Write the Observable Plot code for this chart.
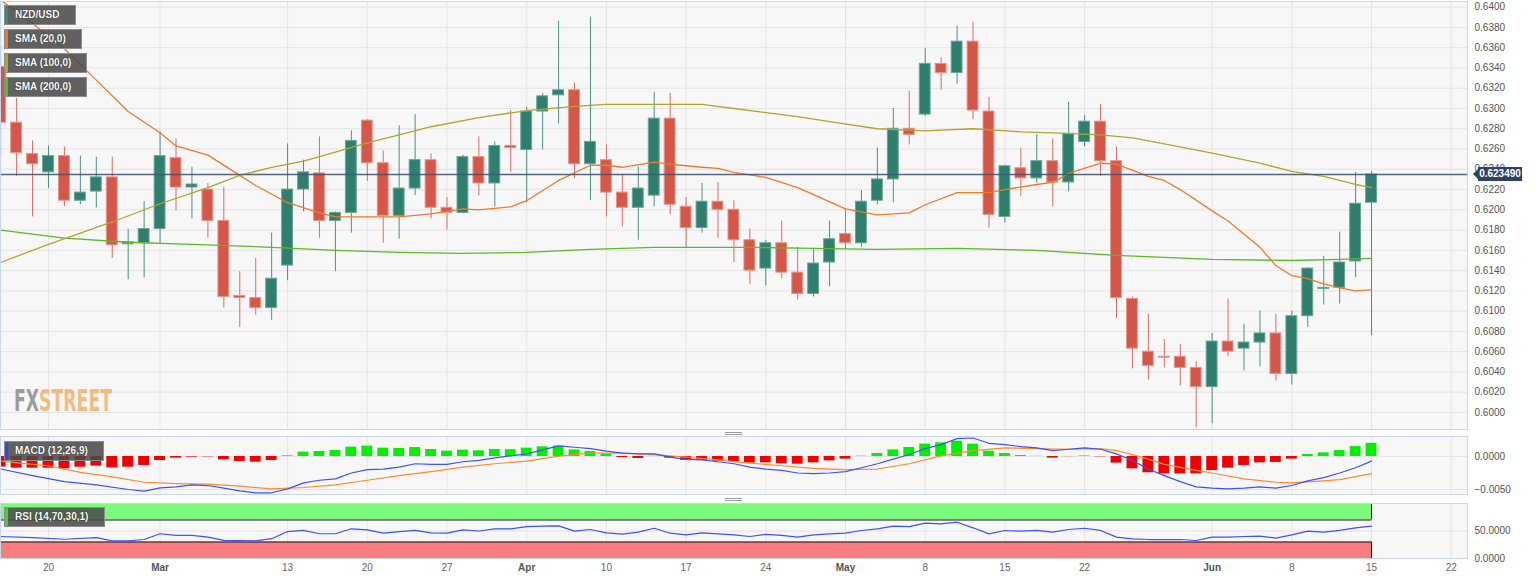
<!DOCTYPE html>
<html><head><meta charset="utf-8">
<script src="https://cdn.jsdelivr.net/npm/d3@7"></script>
<script src="https://cdn.jsdelivr.net/npm/@observablehq/plot@0.6"></script>
<style>
body{margin:0;background:#fff;font-family:"Liberation Sans",Arial,sans-serif;}
#wrap{position:relative;width:1536px;height:582px;overflow:hidden;background:#fff;}
.panel{position:absolute;left:0;}
.tag{position:absolute;left:4px;height:20px;background:rgba(72,72,72,0.86);border:1px solid #8c8c8c;box-sizing:border-box;color:#fff;font-size:10px;font-weight:bold;line-height:18px;padding-left:10px;text-shadow:0 0 1px #000;white-space:nowrap;}
.tag i{position:absolute;left:0;top:0;bottom:0;width:3px;}
.handle{position:absolute;left:725px;width:17px;height:1px;border-top:1px solid #9a9a9a;border-bottom:1px solid #9a9a9a;}
#price{position:absolute;left:1478px;height:14px;width:44px;background:#2c4266;color:#fff;font-size:10px;font-weight:bold;line-height:14px;text-align:center;}
#price:before{content:"";position:absolute;left:-5px;top:2px;border-top:5px solid transparent;border-bottom:5px solid transparent;border-right:5px solid #2c4266;}
</style></head><body><div id="wrap"></div>
<script>
const YEAR = 2023;
// ---- candle data (MM-DD, 2023) ----
const dates = ["02-15","02-16","02-17","02-20","02-21","02-22","02-23","02-24","02-27","02-28",
"03-01","03-02","03-03","03-06","03-07","03-08","03-09","03-10","03-13","03-14","03-15","03-16","03-17",
"03-20","03-21","03-22","03-23","03-24","03-27","03-28","03-29","03-30","03-31",
"04-03","04-04","04-05","04-06","04-07","04-10","04-11","04-12","04-13","04-14","04-17","04-18","04-19","04-20","04-21",
"04-24","04-25","04-26","04-27","04-28","05-01","05-02","05-03","05-04","05-05","05-08","05-09","05-10","05-11","05-12",
"05-15","05-16","05-17","05-18","05-19","05-22","05-23","05-24","05-25","05-26","05-29","05-30","05-31",
"06-01","06-02","06-05","06-06","06-07","06-08","06-09","06-12","06-13","06-14","06-15"];
const open = [0.6341,0.6286,0.6255,0.6237,0.6253,0.6209,0.6218,0.6232,0.6166,0.6167,
0.6181,0.6251,0.6222,0.6220,0.6189,0.6115,0.6113,0.6103,0.6145,0.6220,0.6236,0.6189,0.6197,
0.6288,0.6246,0.6194,0.6221,0.6249,0.6202,0.6197,0.6252,0.6226,0.6263,
0.6259,0.6297,0.6313,0.6318,0.6245,0.6249,0.6217,0.6202,0.6214,0.6290,0.6203,0.6182,0.6208,0.6200,0.6170,
0.6142,0.6167,0.6138,0.6117,0.6148,0.6176,0.6167,0.6209,0.6230,0.6280,0.6294,0.6344,0.6335,0.6366,0.6297,
0.6193,0.6241,0.6231,0.6248,0.6227,0.6267,0.6287,0.6248,0.6112,0.6060,0.6055,0.6055,0.6044,
0.6025,0.6070,0.6063,0.6069,0.6078,0.6038,0.6095,0.6122,0.6123,0.6149,0.6207];
const high = [0.6362,0.6310,0.6268,0.6263,0.6262,0.6253,0.6252,0.6252,0.6181,0.6208,
0.6277,0.6270,0.6242,0.6226,0.6222,0.6139,0.6152,0.6177,0.6265,0.6249,0.6272,0.6198,0.6278,
0.6289,0.6258,0.6283,0.6294,0.6255,0.6212,0.6254,0.6272,0.6267,0.6298,
0.6301,0.6315,0.6386,0.6325,0.6390,0.6264,0.6235,0.6242,0.6316,0.6315,0.6212,0.6226,0.6227,0.6209,0.6181,
0.6170,0.6189,0.6163,0.6162,0.6189,0.6201,0.6219,0.6261,0.6300,0.6317,0.6359,0.6350,0.6381,0.6385,0.6311,
0.6244,0.6261,0.6274,0.6270,0.6306,0.6293,0.6304,0.6262,0.6114,0.6097,0.6072,0.6067,0.6050,
0.6078,0.6112,0.6087,0.6100,0.6097,0.6100,0.6143,0.6154,0.6178,0.6237,0.6238];
const low = [0.6252,0.6233,0.6193,0.6221,0.6203,0.6205,0.6202,0.6152,0.6131,0.6133,
0.6167,0.6199,0.6191,0.6172,0.6103,0.6084,0.6096,0.6091,0.6130,0.6198,0.6172,0.6139,0.6177,
0.6228,0.6167,0.6171,0.6214,0.6191,0.6180,0.6196,0.6214,0.6203,0.6237,
0.6207,0.6259,0.6285,0.6231,0.6209,0.6193,0.6183,0.6170,0.6203,0.6195,0.6162,0.6177,0.6172,0.6148,0.6126,
0.6125,0.6132,0.6111,0.6114,0.6124,0.6160,0.6163,0.6205,0.6207,0.6264,0.6292,0.6318,0.6324,0.6289,0.6182,
0.6187,0.6213,0.6226,0.6203,0.6218,0.6262,0.6233,0.6093,0.6043,0.6032,0.6044,0.6026,0.5985,
0.5989,0.6055,0.6041,0.6045,0.6031,0.6027,0.6084,0.6106,0.6107,0.6133,0.6076];
const close = [0.6286,0.6256,0.6245,0.6253,0.6209,0.6217,0.6232,0.6165,0.6168,0.6181,
0.6253,0.6222,0.6225,0.6189,0.6114,0.6113,0.6103,0.6132,0.6220,0.6237,0.6189,0.6197,0.6268,
0.6246,0.6194,0.6221,0.6249,0.6202,0.6197,0.6252,0.6226,0.6263,0.6261,
0.6297,0.6312,0.6318,0.6245,0.6267,0.6217,0.6202,0.6221,0.6290,0.6205,0.6182,0.6208,0.6200,0.6170,0.6140,
0.6167,0.6138,0.6117,0.6147,0.6171,0.6167,0.6208,0.6230,0.6280,0.6274,0.6344,0.6335,0.6366,0.6298,0.6195,
0.6243,0.6231,0.6248,0.6227,0.6275,0.6287,0.6248,0.6113,0.6063,0.6046,0.6054,0.6044,0.6025,
0.6070,0.6060,0.6069,0.6078,0.6038,0.6095,0.6142,0.6123,0.6148,0.6206,0.62349];
const lastPrice = 0.62349;

// ---- moving averages ----
const sma20 = [["02-15",0.6407],["02-17",0.6384],["02-21",0.6359],["02-23",0.6328],["02-27",0.6297],["03-01",0.6276],["03-02",0.6263],["03-06",0.6254],["03-08",0.6234],["03-09",0.6224],["03-13",0.6207],["03-15",0.6197],["03-16",0.6193],["03-22",0.6193],["03-24",0.6196],["03-28",0.6201],["03-29",0.6200],["03-31",0.6203],["04-03",0.6209],["04-05",0.6229],["04-07",0.6244],["04-10",0.6244],["04-11",0.6242],["04-13",0.6247],["04-14",0.6245],["04-18",0.6242],["04-19",0.6241],["04-20",0.6237],["04-24",0.6232],["04-26",0.6222],["04-27",0.6215],["05-01",0.6201],["05-03",0.6195],["05-05",0.6197],["05-08",0.6205],["05-10",0.6217],["05-12",0.6217],["05-15",0.6220],["05-17",0.6225],["05-18",0.6227],["05-19",0.6236],["05-23",0.6246],["05-24",0.6245],["05-26",0.6233],["05-29",0.6229],["05-30",0.6220],["06-01",0.6199],["06-02",0.6189],["06-06",0.6163],["06-07",0.6145],["06-08",0.6135],["06-09",0.6132],["06-12",0.6127],["06-13",0.6123],["06-14",0.6120],["06-15",0.6121]];
const sma100 = [["02-15",0.6148],["02-20",0.6166],["02-22",0.6177],["02-24",0.6188],["03-01",0.6206],["03-06",0.6222],["03-08",0.6234],["03-10",0.6242],["03-14",0.6248],["03-16",0.6257],["03-20",0.6266],["03-22",0.6274],["03-24",0.6282],["03-29",0.6291],["04-03",0.6298],["04-06",0.6302],["04-10",0.6304],["04-18",0.6304],["04-20",0.6300],["04-24",0.6296],["04-26",0.6292],["04-28",0.6287],["05-03",0.6280],["05-08",0.6278],["05-11",0.6280],["05-16",0.6277],["05-18",0.6276],["05-23",0.6274],["05-25",0.6271],["05-29",0.6265],["06-01",0.6256],["06-06",0.6246],["06-08",0.6238],["06-12",0.6233],["06-14",0.6225],["06-15",0.6222]];
const sma200 = [["02-15",0.6180],["02-21",0.6172],["02-27",0.6168],["03-03",0.6166],["03-10",0.6163],["03-16",0.6160],["03-22",0.6158],["03-28",0.6157],["04-03",0.6158],["04-07",0.6161],["04-13",0.6163],["04-21",0.6163],["04-27",0.6162],["05-03",0.6161],["05-10",0.6162],["05-17",0.6160],["05-24",0.6155],["06-01",0.6151],["06-08",0.6150],["06-13",0.6151],["06-15",0.6152]];

// ---- MACD (12,26,9) ----
const macdHist = [-0.0016,-0.00177,-0.00177,-0.00177,-0.00187,-0.00162,-0.00146,-0.00172,-0.00162,-0.00136,
-0.00061,-0.00025,-0.0001,-0.00005,-0.0005,-0.00076,-0.00086,-0.00061,0.0001,0.00066,0.00076,0.00091,0.00141,
0.00157,0.00126,0.00121,0.00136,0.00106,0.00081,0.00096,0.00086,0.00106,0.00103,
0.00126,0.00146,0.00157,0.001,0.00076,0.00035,-0.00015,-0.0003,0.00005,-0.00025,-0.0006,-0.0006,-0.0007,-0.0008,-0.001,
-0.00096,-0.0011,-0.00116,-0.00096,-0.00066,-0.0004,0.00005,0.00045,0.001,0.00136,0.00187,0.00207,0.00232,0.00187,0.00081,
0.00045,0.00015,0.00003,-0.00025,-0.00002,0.00008,-0.00005,-0.001,-0.00187,-0.00247,-0.00263,-0.00263,-0.00263,
-0.00212,-0.00177,-0.00136,-0.00096,-0.0009,-0.0004,0.0003,0.00055,0.0009,0.0015,0.002];
const macdLine = [["02-15",-0.0019],["02-17",-0.0029],["02-21",-0.0038],["02-23",-0.0043],["02-27",-0.0050],["02-28",-0.00525],["03-01",-0.00475],["03-02",-0.0046],["03-03",-0.0043],["03-06",-0.0044],["03-07",-0.0048],["03-08",-0.0052],["03-09",-0.0055],["03-10",-0.0055],["03-13",-0.0049],["03-14",-0.0040],["03-15",-0.0036],["03-16",-0.0034],["03-17",-0.0025],["03-20",-0.0020],["03-21",-0.0019],["03-22",-0.0016],["03-23",-0.0011],["03-24",-0.0012],["03-27",-0.0012],["03-28",-0.0008],["03-29",-0.0006],["03-30",-0.0002],["03-31",0.0001],["04-03",0.0004],["04-04",0.0010],["04-05",0.0016],["04-06",0.0014],["04-07",0.0012],["04-10",0.0008],["04-11",0.0005],["04-12",0.0004],["04-13",0.0004],["04-14",-0.0001],["04-17",-0.00045],["04-18",-0.0005],["04-19",-0.0008],["04-20",-0.0011],["04-21",-0.0016],["04-24",-0.0019],["04-25",-0.0021],["04-26",-0.0025],["04-27",-0.0026],["04-28",-0.0025],["05-01",-0.0023],["05-02",-0.0017],["05-03",-0.0011],["05-04",-0.0004],["05-05",0.0003],["05-08",0.0012],["05-09",0.0018],["05-10",0.0027],["05-11",0.0028],["05-12",0.0020],["05-15",0.0018],["05-16",0.0015],["05-17",0.0013],["05-18",0.0009],["05-19",0.0011],["05-22",0.0013],["05-23",0.0011],["05-24",0.0004],["05-25",-0.0006],["05-26",-0.0019],["05-29",-0.0029],["05-30",-0.0038],["05-31",-0.0046],["06-01",-0.0048],["06-02",-0.0049],["06-05",-0.0048],["06-06",-0.0046],["06-07",-0.0048],["06-08",-0.0044],["06-09",-0.0037],["06-12",-0.0032],["06-13",-0.0025],["06-14",-0.0017],["06-15",-0.0007]];
const signalLine = [["02-15",-0.0007],["02-17",-0.0012],["02-20",-0.0014],["02-22",-0.0024],["02-24",-0.0031],["02-28",-0.0039],["03-02",-0.0041],["03-06",-0.0042],["03-08",-0.0045],["03-10",-0.0049],["03-14",-0.0047],["03-16",-0.0043],["03-20",-0.0036],["03-22",-0.0029],["03-24",-0.0023],["03-28",-0.0016],["03-30",-0.0011],["04-03",-0.0007],["04-05",0.00005],["04-07",0.0005],["04-11",0.0005],["04-13",0.0003],["04-17",-0.0001],["04-19",-0.0005],["04-21",-0.0010],["04-25",-0.0014],["04-27",-0.0018],["05-01",-0.0020],["05-03",-0.0019],["05-05",-0.0011],["05-09",0.0001],["05-11",0.0009],["05-15",0.0013],["05-17",0.0012],["05-19",0.0011],["05-23",0.0012],["05-24",0.0009],["05-25",0.0003],["05-26",-0.0004],["05-29",-0.0012],["05-31",-0.0021],["06-01",-0.0025],["06-05",-0.0034],["06-07",-0.0039],["06-08",-0.0040],["06-12",-0.0037],["06-13",-0.0035],["06-15",-0.0026]];

// ---- RSI (14,70,30,1) ----
const rsi = [["02-15",40],["02-17",38],["02-21",35],["02-23",38],["02-24",32],["02-27",32],["02-28",34.5],["03-01",45],["03-02",42],["03-03",42],["03-06",39],["03-07",33],["03-08",32.5],["03-09",32],["03-10",36],["03-13",49],["03-14",51],["03-15",45],["03-16",45],["03-17",54],["03-20",52],["03-21",46],["03-22",49],["03-23",51],["03-24",46.5],["03-27",46],["03-28",52],["03-29",50],["03-30",54],["03-31",54],["04-03",58],["04-04",59],["04-05",59.4],["04-06",49.7],["04-07",52.7],["04-10",46.7],["04-11",44.2],["04-12",47.9],["04-13",55],["04-14",46],["04-17",43],["04-18",46.7],["04-19",44.8],["04-20",43],["04-21",40],["04-24",44],["04-25",42],["04-26",38.8],["04-27",43],["04-28",44.8],["05-01",46],["05-02",50.9],["05-03",54],["05-04",58.8],["05-05",58],["05-08",64.2],["05-09",63],["05-10",66],["05-11",55.8],["05-12",44.8],["05-15",50.9],["05-16",49.7],["05-17",51],["05-18",48],["05-19",52.7],["05-22",55],["05-23",51],["05-24",38.8],["05-25",35.8],["05-26",34.5],["05-29",34.5],["05-30",34.5],["05-31",32.7],["06-01",38.8],["06-02",38.8],["06-05",40],["06-06",40.6],["06-07",37],["06-08",43],["06-09",49.7],["06-12",48],["06-13",51],["06-14",55.8],["06-15",58.8]];

// ---- axes ----
const priceTicks = [0.600,0.602,0.604,0.606,0.608,0.610,0.612,0.614,0.616,0.618,0.620,0.622,0.624,0.626,0.628,0.630,0.632,0.634,0.636,0.638,0.640];
const macdTicks = [0, -0.005];
const rsiTicks = [0, 50];
const tickDates = ["02-20","03-01","03-13","03-20","03-27","04-03","04-10","04-17","04-24","05-01","05-08","05-15","05-22","06-01","06-08","06-15","06-22"];
const tickLabels = ["20","Mar","13","20","27","Apr","10","17","24","May","8","15","22","Jun","8","15","22"];
const monthLabels = ["Mar","Apr","May","Jun"];

// trading-day index (weekdays only), Monday 20 Feb = 0
function tIndex(md){
  const [m,d] = md.split("-").map(Number);
  const days = Math.round((Date.UTC(YEAR,m-1,d) - Date.UTC(YEAR,1,20)) / 864e5);
  const w = Math.floor(days/7);
  return w*5 + Math.min(days - w*7, 5);
}

const W = 1536, MR = 69;
const X = {type:"linear", domain:[-3.01, 89.02], axis:null};
const FONT = "Liberation Sans, Arial, sans-serif";
const style = {background:"transparent", fontFamily:FONT, fontSize:"10px", color:"#555", overflow:"visible"};
const UP = "#2f7f6e", DN = "#d4574a";
const GRID = "#e4e4e4", BORDER = "#ccd6eb", BG = "#f7f7f7";

const candles = dates.map((d,k)=>({i:tIndex(d), o:open[k], h:high[k], l:low[k], c:close[k]}));
const isUp = d => d.c >= d.o;
const pts = arr => arr.map(([d,v])=>({i:tIndex(d), v}));
const tickIdx = tickDates.map(tIndex);
const lastIdx = tIndex(dates[dates.length-1]);
const firstIdx = tIndex(dates[0]);

const wrap = document.getElementById("wrap");
function place(svg, top){ svg.classList.add("panel"); svg.style.top = top+"px"; svg.style.position="absolute"; wrap.appendChild(svg); }

// ---- main panel ----
const main = Plot.plot({
  width: W, height: 429, marginTop: 1, marginBottom: 0, marginLeft: 0, marginRight: MR,
  x: X, y: {domain:[0.59832, 0.64056], label:null}, color:{type:"identity"}, style,
  marks: [
    Plot.frame({fill:BG, stroke:null}),
    Plot.ruleY(priceTicks, {stroke:GRID}),
    Plot.ruleX(tickIdx, {stroke:GRID}),
    Plot.ruleX(candles, {x:"i", y1:"l", y2:"h", stroke:d=>isUp(d)?UP:DN, strokeOpacity:0.85, clip:true}),
    Plot.rect(candles, {x1:d=>d.i-0.34, x2:d=>d.i+0.34, y1:"o", y2:"c",
      fill:d=>isUp(d)?UP:DN, stroke:d=>isUp(d)?"#6aa597":"#e6948a", strokeWidth:1, clip:true}),
    Plot.line(pts(sma200), {x:"i", y:"v", stroke:"#5cb82c", strokeWidth:1.3, clip:true}),
    Plot.line(pts(sma100), {x:"i", y:"v", stroke:"#b3a42c", strokeWidth:1.3, clip:true}),
    Plot.line(pts(sma20), {x:"i", y:"v", stroke:"#f07a2a", strokeWidth:1.3, clip:true}),
    Plot.ruleY([lastPrice], {stroke:"#41557a", strokeWidth:1.5, strokeOpacity:0.9}),
    Plot.axisY(priceTicks, {anchor:"right", label:null, tickSize:0, tickPadding:7, tickFormat:d3.format(".4f")}),
    Plot.frame({stroke:BORDER})
  ]
});
place(main, 0);

// ---- MACD panel ----
const hist = dates.map((d,k)=>({i:tIndex(d), v:macdHist[k]}));
const macd = Plot.plot({
  width: W, height: 58, margin: 0, marginRight: MR,
  x: X, y: {domain:[-0.00576, 0.00303], label:null}, color:{type:"identity"}, style,
  marks: [
    Plot.frame({fill:BG, stroke:null}),
    Plot.ruleY(macdTicks, {stroke:GRID}),
    Plot.ruleX(tickIdx, {stroke:GRID}),
    Plot.rect(hist, {x1:d=>d.i-0.34, x2:d=>d.i+0.34, y1:0, y2:"v",
      fill:d=>d.v>=0?"#00f000":"#f00000", clip:true}),
    Plot.line(pts(signalLine), {x:"i", y:"v", stroke:"#ff8a30", strokeWidth:1.2, clip:true}),
    Plot.line(pts(macdLine), {x:"i", y:"v", stroke:"#3a55f5", strokeWidth:1.2, clip:true}),
    Plot.axisY(macdTicks, {anchor:"right", label:null, tickSize:0, tickPadding:7, tickFormat:d3.format(".4f")}),
    Plot.frame({stroke:BORDER})
  ]
});
place(macd, 436);

// ---- RSI panel + date axis ----
const labelOf = new Map(tickIdx.map((t,k)=>[t, tickLabels[k]]));
const monthIdx = tickIdx.filter(t=>monthLabels.includes(labelOf.get(t)));
const dayIdx = tickIdx.filter(t=>!monthLabels.includes(labelOf.get(t)));
const rsiPlot = Plot.plot({
  width: W, height: 79, marginTop: 0, marginBottom: 24, marginLeft: 0, marginRight: MR,
  x: X, y: {domain:[0, 100], label:null}, color:{type:"identity"}, style,
  marks: [
    Plot.frame({fill:BG, stroke:null}),
    Plot.ruleY([50], {stroke:GRID}),
    Plot.ruleX(tickIdx, {stroke:GRID}),
    Plot.rect([0], {x1:firstIdx-1, x2:lastIdx, y1:70, y2:100, fill:"#7dfa7d", clip:true}),
    Plot.rect([0], {x1:firstIdx-1, x2:lastIdx, y1:0, y2:30, fill:"#fa7d7d", clip:true}),
    Plot.ruleY([70, 30], {x1:firstIdx-1, x2:lastIdx, stroke:"#1a1a1a", clip:true}),
    Plot.ruleY([0], {x1:firstIdx-1, x2:lastIdx, stroke:"#7a2a2a", clip:true}),
    Plot.ruleX([lastIdx], {y1:70, y2:100, stroke:"#1a1a1a"}),
    Plot.ruleX([lastIdx], {y1:0, y2:30, stroke:"#1a1a1a"}),
    Plot.line(pts(rsi), {x:"i", y:"v", stroke:"#3a55f5", strokeWidth:1.2, clip:true}),
    Plot.axisY(rsiTicks, {anchor:"right", label:null, tickSize:0, tickPadding:7, tickFormat:d3.format(".4f")}),
    Plot.frame({stroke:BORDER}),
    Plot.text(dayIdx, {x:d=>d, frameAnchor:"bottom", dy:12, text:d=>labelOf.get(d), fill:"#666", fontSize:10}),
    Plot.text(monthIdx, {x:d=>d, frameAnchor:"bottom", dy:12, text:d=>labelOf.get(d), fill:"#555", fontSize:10, fontWeight:"bold"})
  ]
});
place(rsiPlot, 503);

// ---- overlays ----
function tag(text, top, color, width){
  const el = document.createElement("div");
  el.className = "tag"; el.style.top = top+"px"; el.style.width = width+"px";
  el.innerHTML = `<i style="background:${color}"></i>${text}`;
  wrap.appendChild(el);
}
tag("NZD/USD", 5, "#2f8f7c", 72);
tag("SMA (20,0)", 29, "#f07a2a", 78);
tag("SMA (100,0)", 53, "#b3a42c", 83);
tag("SMA (200,0)", 77, "#5cb82c", 83);
tag("MACD (12,26,9)", 441, "#2a44ff", 100);
tag("RSI (14,70,30,1)", 507, "#40d040", 101);

[431.5, 497.5].forEach(t=>{ const h=document.createElement("div"); h.className="handle"; h.style.top=t+"px"; wrap.appendChild(h); });

const py = main.scale("y").apply(lastPrice);
const pl = document.createElement("div");
pl.id = "price"; pl.style.top = (py-7)+"px"; pl.textContent = d3.format(".6f")(lastPrice);
wrap.appendChild(pl);

// watermark: one text, horizontally condensed with a transform
const wm = document.createElementNS("http://www.w3.org/2000/svg","svg");
wm.setAttribute("width","130"); wm.setAttribute("height","40");
wm.style.position="absolute"; wm.style.left="0px"; wm.style.top="380px"; wm.style.overflow="visible";
wm.innerHTML = `<text id="wmt" x="0" y="0" font-family="DejaVu Sans Condensed, Liberation Sans, sans-serif" font-weight="bold" font-size="31" fill-opacity="0.85"><tspan fill="#8c8c8c">FX</tspan><tspan fill="#f3b06c">STREET</tspan></text>`;
wrap.appendChild(wm);
const wmt = wm.querySelector("#wmt");
const bb = wmt.getBBox();
const sx = 98 / bb.width;
wmt.setAttribute("transform", `translate(14,${31}) scale(${sx},1) translate(${-bb.x},0)`);
</script></body></html>
